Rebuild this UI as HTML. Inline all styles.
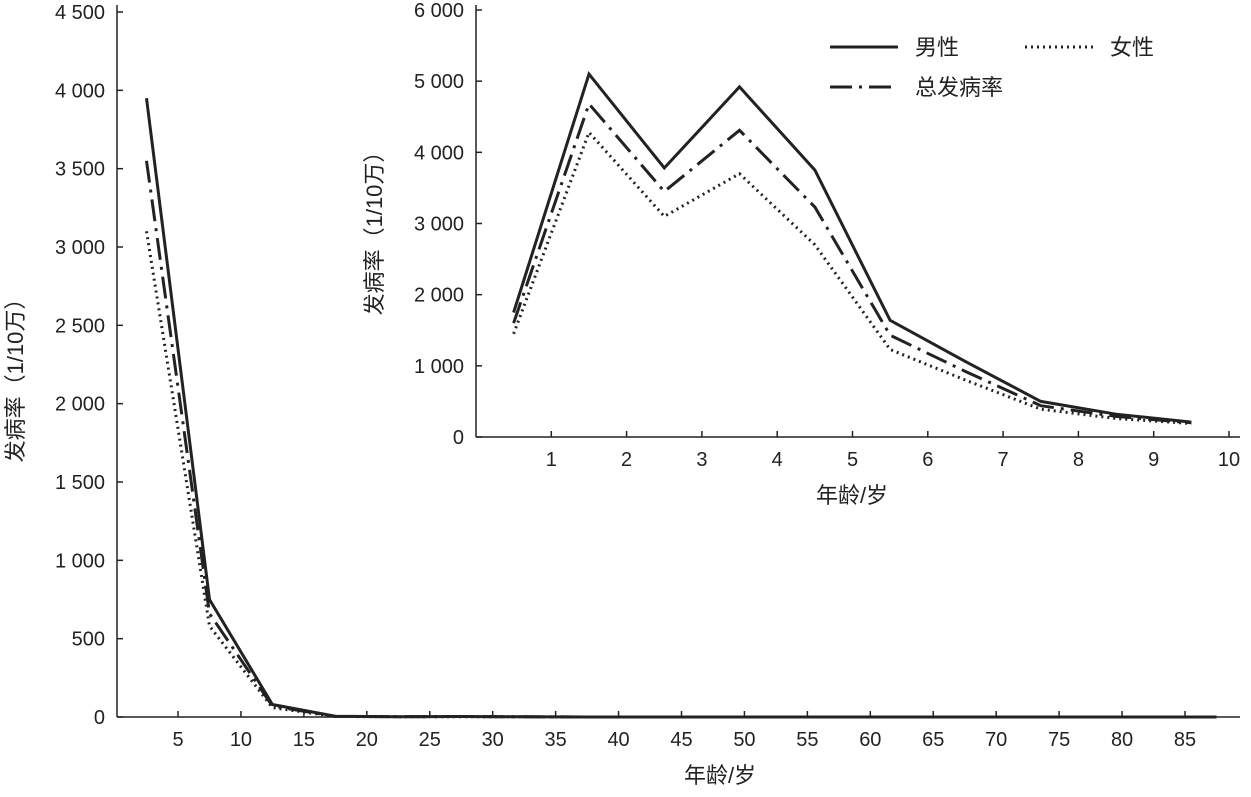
<!DOCTYPE html>
<html><head><meta charset="utf-8">
<style>
html,body{margin:0;padding:0;background:#fff;}
svg text{font-family:"Liberation Sans","Noto Sans CJK SC",sans-serif;fill:#222;}
</style></head>
<body>
<svg id="chart" width="1251" height="792" xmlns="http://www.w3.org/2000/svg"></svg>
<script>
// Main chart data
const mainAges = [2.5, 7.5, 12.5, 17.5, 22.5, 27.5, 32.5, 37.5, 42.5, 47.5, 52.5, 57.5, 62.5, 67.5, 72.5, 77.5, 82.5, 87.5];
const mainMale = [3950, 750, 80, 5, 2, 3, 1, 0, 0, 0, 0, 0, 0, 0, 0, 0, 0, 0];
const mainFemale = [3100, 580, 60, 3, 2, 2, 1, 0, 0, 0, 0, 0, 0, 0, 0, 0, 0, 0];
const mainTotal = [3550, 660, 70, 4, 2, 3, 1, 0, 0, 0, 0, 0, 0, 0, 0, 0, 0, 0];
const mainXTicks = [5,10,15,20,25,30,35,40,45,50,55,60,65,70,75,80,85];
const mainYTicks = [0,500,1000,1500,2000,2500,3000,3500,4000,4500];
const mainYLabels = ["0","500","1 000","1 500","2 000","2 500","3 000","3 500","4 000","4 500"];
// Inset data
const insetAges = [0.5,1.5,2.5,3.5,4.5,5.5,6.5,7.5,8.5,9.5];
const insetMale = [1750,5100,3780,4920,3750,1640,1060,500,320,210];
const insetFemale = [1450,4280,3100,3700,2700,1230,800,390,260,190];
const insetTotal = [1600,4680,3450,4310,3230,1430,920,440,290,200];
const insetXTicks = [1,2,3,4,5,6,7,8,9,10];
const insetYTicks = [0,1000,2000,3000,4000,5000,6000];
const insetYLabels = ["0","1 000","2 000","3 000","4 000","5 000","6 000"];

const NS="http://www.w3.org/2000/svg";
const svg=document.getElementById('chart');
function mk(tag,attrs,parent){const e=document.createElementNS(NS,tag);for(const k in attrs)e.setAttribute(k,attrs[k]);(parent||svg).appendChild(e);return e;}

// main axes
const mx=v=>178+(v-5)*(1185-178)/80;
const my=v=>717-v*(717-12)/4500;
// inset axes
const ix=v=>476+v*(1229-476)/10;
const iy=v=>437-v*(437-10)/6000;

const styles={
 male:{"stroke-width":3},
 female:{"stroke-width":3,"stroke-dasharray":"2 4"},
 total:{"stroke-width":3,"stroke-dasharray":"22 7 3 7"}
};

function axes(name,x0,x1,y0,yTop,xs,xf,ys,yl,yf,labelFs){
 const g=mk('g',{});
 
 
 const xa=mk('line',{x1:x0,y1:y0,x2:x1,y2:y0,stroke:'#222','stroke-width':1.5},g);
 
 
 const ya=mk('line',{x1:x0,y1:y0,x2:x0,y2:yTop,stroke:'#222','stroke-width':1.5},g);
 
 
 xs.forEach(v=>{
  mk('line',{x1:xf(v),y1:y0,x2:xf(v),y2:y0-6,stroke:'#222','stroke-width':1.5},g);
  const t=mk('text',{x:xf(v),y:y0+29,'text-anchor':'middle','font-size':labelFs},g);
  t.textContent=v;
  
  
 });
 ys.forEach((v,i)=>{
  mk('line',{x1:x0,y1:yf(v),x2:x0+6,y2:yf(v),stroke:'#222','stroke-width':1.5},g);
  const t=mk('text',{x:x0-12,y:yf(v)+7,'text-anchor':'end','font-size':labelFs},g);
  t.textContent=yl[i];
  
  
 });
}
function series(name,xsArr,ysArr,xf,yf,st){
 const d=xsArr.map((a,i)=>(i?'L':'M')+xf(a).toFixed(1)+','+yf(ysArr[i]).toFixed(1)).join(' ');
 const p=mk('path',Object.assign({d:d,fill:'none',stroke:'#222','stroke-linejoin':'miter'},st));
 
 
}

axes('main',117,1240,717,5,mainXTicks,mx,mainYTicks,mainYLabels,my,20);
series('main-female-line',mainAges,mainFemale,mx,my,styles.female);
series('main-total-line',mainAges,mainTotal,mx,my,styles.total);
series('main-male-line',mainAges,mainMale,mx,my,styles.male);

axes('inset',476,1240,437,5,insetXTicks,ix,insetYTicks,insetYLabels,iy,20);
series('inset-female-line',insetAges,insetFemale,ix,iy,styles.female);
series('inset-total-line',insetAges,insetTotal,ix,iy,styles.total);
series('inset-male-line',insetAges,insetMale,ix,iy,styles.male);

function txt(s,attrs,name){const t=mk('text',attrs);t.textContent=s;return t;}
txt('年龄/岁',{x:720,y:783,'text-anchor':'middle','font-size':22},'main-x-axis-title');
txt('发病率（1/10万）',{x:0,y:0,'text-anchor':'middle','font-size':22,transform:'translate(23,375) rotate(-90)'},'main-y-axis-title');
txt('年龄/岁',{x:852,y:503,'text-anchor':'middle','font-size':22},'inset-x-axis-title');
txt('发病率（1/10万）',{x:0,y:0,'text-anchor':'middle','font-size':22,transform:'translate(382,228) rotate(-90)'},'inset-y-axis-title');

// legend
const lg=mk('g',{});


const leg=[['男性',styles.male,830,47],['女性',styles.female,1025,47],['总发病率',styles.total,830,87]];
leg.forEach(([lab,st,x,y])=>{
 const l=mk('line',Object.assign({x1:x,y1:y,x2:x+68,y2:y,stroke:'#222'},st),lg);
 
 
 const t=mk('text',{x:x+85,y:y+8,'font-size':22},lg);
 t.textContent=lab;
 
 
});
</script>
</body></html>
